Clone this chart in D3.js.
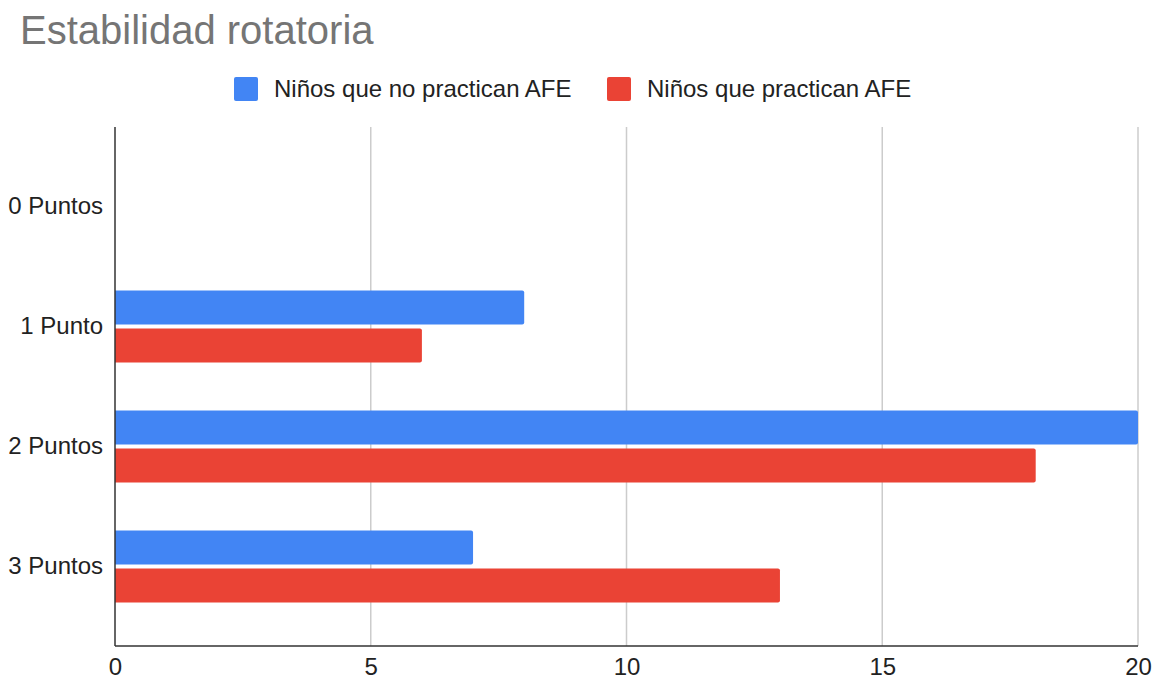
<!DOCTYPE html>
<html><head><meta charset="utf-8">
<script src="https://cdn.jsdelivr.net/npm/d3@7"></script>
<style>body{margin:0;background:#fff;}svg{display:block;font-family:Arial,"Liberation Sans",sans-serif;}</style>
</head><body><svg id="c" width="1153" height="680"></svg>
<script>
const categories = ["0 Puntos", "1 Punto", "2 Puntos", "3 Puntos"];
const seriesNames = ["Niños que no practican AFE", "Niños que practican AFE"];
const noPractican = [0, 8, 20, 7];
const practican = [0, 6, 18, 13];
const xTicks = [0, 5, 10, 15, 20];
const colors = ["#4285f4", "#ea4335"];

const svg = d3.select("#c");
const L = 115, R = 1138, T = 127, B = 646;
const x = d3.scaleLinear().domain([0, 20]).range([L, R]);
const y = d3.scaleBand().domain(categories).range([T, B]).paddingInner(0.4).paddingOuter(0.3625);
const yi = d3.scaleBand().domain([0, 1]).range([0, y.bandwidth()]).paddingInner(0.11);

svg.append("text").attr("x", 20).attr("y", 44).attr("font-size", 40).attr("fill", "#757575").text("Estabilidad rotatoria");

// grid
svg.append("g").selectAll("line").data(xTicks.filter(d => d > 0)).join("line")
  .attr("x1", d => x(d)).attr("x2", d => x(d)).attr("y1", T).attr("y2", B)
  .attr("stroke", "#cccccc").attr("stroke-width", 1.5);

const data = categories.map((c, i) => ({c, v: [noPractican[i], practican[i]]}));
svg.append("g").selectAll("g").data(data).join("g")
  .attr("transform", d => `translate(0,${y(d.c)})`)
  .selectAll("path").data(d => d.v.map((v, k) => ({v, k}))).join("path")
  .attr("fill", d => colors[d.k])
  .attr("d", d => {
    const x0 = x(0), x1 = x(d.v), y0 = yi(d.k), h = yi.bandwidth(), r = Math.min(2, (x1 - x0) / 2);
    if (d.v <= 0) return "";
    return `M${x0},${y0}H${x1 - r}Q${x1},${y0} ${x1},${y0 + r}V${y0 + h - r}Q${x1},${y0 + h} ${x1 - r},${y0 + h}H${x0}Z`;
  });

// axes lines
svg.append("line").attr("x1", L).attr("x2", L).attr("y1", T).attr("y2", B).attr("stroke", "#333").attr("stroke-width", 1.5);
svg.append("line").attr("x1", L).attr("x2", R).attr("y1", B).attr("y2", B).attr("stroke", "#333").attr("stroke-width", 1.5);

// x tick labels
const xa = svg.append("g").attr("transform", `translate(0,${B})`).call(d3.axisBottom(x).tickValues(xTicks).tickSize(0).tickPadding(12));
xa.select(".domain").remove();
xa.selectAll("text").attr("font-size", 24).attr("fill", "#222").attr("font-family", "Arial,'Liberation Sans',sans-serif");

// y labels
const ya = svg.append("g").attr("transform", `translate(${L},0)`).call(d3.axisLeft(y).tickSize(0).tickPadding(12));
ya.select(".domain").remove();
ya.selectAll("text").attr("font-size", 24).attr("fill", "#222").attr("font-family", "Arial,'Liberation Sans',sans-serif");

// legend
const leg = svg.append("g");
const legX = [234, 607];
seriesNames.forEach((n, i) => {
  leg.append("rect").attr("x", legX[i]).attr("y", 77).attr("width", 24).attr("height", 24).attr("rx", 2).attr("fill", colors[i]);
  leg.append("text").attr("x", legX[i] + 40).attr("y", 97).attr("font-size", 24).attr("fill", "#222").text(n);
});
</script></body></html>
